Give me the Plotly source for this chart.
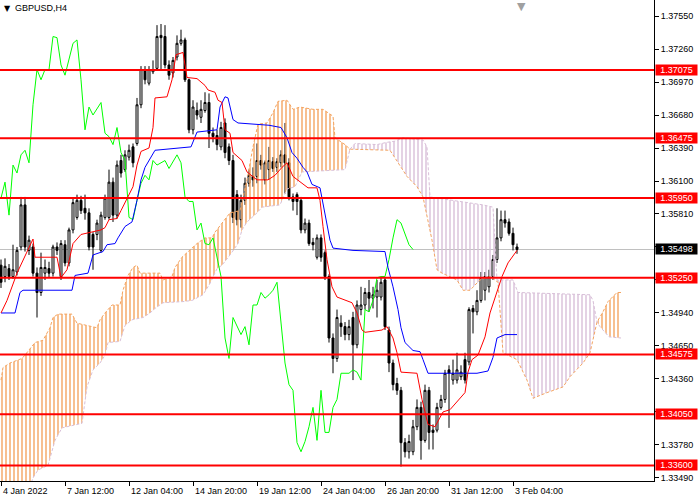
import plotly.graph_objects as go

# GBPUSD H4 candles, bar index 0..129
bars = list(range(130))
opens = [1.3536, 1.3526, 1.3533, 1.3526, 1.3530, 1.3552, 1.3589, 1.3549, 1.3552, 1.3529,
         1.3512, 1.3529, 1.3533, 1.3529, 1.3552, 1.3526, 1.3554, 1.3538, 1.3567, 1.3578,
         1.3593, 1.3586, 1.3582, 1.3563, 1.3563, 1.3549, 1.3578, 1.3578, 1.3609, 1.3580,
         1.3628, 1.3620, 1.3631, 1.3640, 1.3643, 1.3677, 1.3708, 1.3696, 1.3706, 1.3709,
         1.3738, 1.3737, 1.3712, 1.3705, 1.3719, 1.3731, 1.3734, 1.3699, 1.3655, 1.3672,
         1.3666, 1.3672, 1.3679, 1.3652, 1.3650, 1.3640, 1.3661, 1.3640, 1.3628, 1.3598,
         1.3576, 1.3593, 1.3608, 1.3614, 1.3614, 1.3628, 1.3611, 1.3620, 1.3627, 1.3622,
         1.3626, 1.3633, 1.3626, 1.3596, 1.3598, 1.3593, 1.3567, 1.3573, 1.3556, 1.3543,
         1.3560, 1.3547, 1.3526, 1.3472, 1.3454, 1.3485, 1.3482, 1.3475, 1.3490, 1.3466,
         1.3497, 1.3501, 1.3512, 1.3507, 1.3508, 1.3508, 1.3523, 1.3479, 1.3450, 1.3432,
         1.3426, 1.3380, 1.3372, 1.3372, 1.3394, 1.3411, 1.3382, 1.3426, 1.3391, 1.3391,
         1.3411, 1.3418, 1.3444, 1.3435, 1.3435, 1.3438, 1.3453, 1.3451, 1.3498, 1.3495,
         1.3505, 1.3514, 1.3517, 1.3526, 1.3541, 1.3560, 1.3576, 1.3574, 1.3564, 1.3552]
highs = [1.3541, 1.3542, 1.3537, 1.3554, 1.3552, 1.3596, 1.3596, 1.3562, 1.3555, 1.3534,
         1.3547, 1.3541, 1.3539, 1.3554, 1.3556, 1.3558, 1.3558, 1.3569, 1.3595, 1.3598,
         1.3597, 1.3598, 1.3586, 1.3565, 1.3576, 1.3583, 1.3598, 1.3620, 1.3613, 1.3628,
         1.3633, 1.3637, 1.3642, 1.3643, 1.3683, 1.3711, 1.3711, 1.3711, 1.3716, 1.3747,
         1.3748, 1.3747, 1.3716, 1.3719, 1.3738, 1.3743, 1.3736, 1.3700, 1.3681, 1.3679,
         1.3681, 1.3688, 1.3687, 1.3657, 1.3655, 1.3662, 1.3665, 1.3643, 1.3633, 1.3602,
         1.3598, 1.3613, 1.3620, 1.3622, 1.3643, 1.3633, 1.3628, 1.3640, 1.3631, 1.3630,
         1.3637, 1.3661, 1.3630, 1.3599, 1.3600, 1.3596, 1.3577, 1.3576, 1.3560, 1.3563,
         1.3563, 1.3549, 1.3528, 1.3476, 1.3497, 1.3492, 1.3486, 1.3488, 1.3495, 1.3505,
         1.3517, 1.3516, 1.3523, 1.3517, 1.3523, 1.3525, 1.3525, 1.3482, 1.3453, 1.3437,
         1.3429, 1.3384, 1.3387, 1.3400, 1.3418, 1.3416, 1.3431, 1.3429, 1.3396, 1.3415,
         1.3422, 1.3444, 1.3448, 1.3453, 1.3459, 1.3448, 1.3459, 1.3499, 1.3501, 1.3514,
         1.3530, 1.3530, 1.3532, 1.3545, 1.3586, 1.3584, 1.3584, 1.3577, 1.3569, 1.3555]
lows = [1.3516, 1.3521, 1.3523, 1.3524, 1.3527, 1.3549, 1.3548, 1.3545, 1.3526, 1.3490,
        1.3509, 1.3523, 1.3525, 1.3526, 1.3545, 1.3523, 1.3535, 1.3535, 1.3564, 1.3576,
        1.3581, 1.3576, 1.3549, 1.3532, 1.3558, 1.3547, 1.3576, 1.3576, 1.3574, 1.3577,
        1.3613, 1.3618, 1.3628, 1.3622, 1.3641, 1.3674, 1.3695, 1.3694, 1.3704, 1.3708,
        1.3708, 1.3709, 1.3699, 1.3701, 1.3716, 1.3729, 1.3697, 1.3652, 1.3651, 1.3664,
        1.3661, 1.3670, 1.3639, 1.3644, 1.3637, 1.3637, 1.3630, 1.3624, 1.3573, 1.3571,
        1.3569, 1.3589, 1.3605, 1.3605, 1.3608, 1.3620, 1.3607, 1.3611, 1.3618, 1.3618,
        1.3622, 1.3599, 1.3593, 1.3584, 1.3580, 1.3564, 1.3564, 1.3553, 1.3549, 1.3541,
        1.3539, 1.3523, 1.3468, 1.3441, 1.3451, 1.3473, 1.3470, 1.3470, 1.3435, 1.3463,
        1.3492, 1.3497, 1.3495, 1.3498, 1.3490, 1.3505, 1.3479, 1.3442, 1.3426, 1.3422,
        1.3359, 1.3367, 1.3366, 1.3369, 1.3391, 1.3365, 1.3380, 1.3374, 1.3374, 1.3389,
        1.3409, 1.3415, 1.3393, 1.3431, 1.3432, 1.3435, 1.3432, 1.3448, 1.3476, 1.3492,
        1.3503, 1.3505, 1.3512, 1.3523, 1.3538, 1.3557, 1.3569, 1.3562, 1.3549, 1.3546]
closes = [1.3521, 1.3535, 1.3526, 1.3532, 1.3549, 1.3589, 1.3552, 1.3558, 1.3529, 1.3512,
          1.3534, 1.3534, 1.3529, 1.3552, 1.3549, 1.3555, 1.3538, 1.3567, 1.3591, 1.3593,
          1.3584, 1.3582, 1.3552, 1.3552, 1.3573, 1.3580, 1.3595, 1.3609, 1.3580, 1.3624,
          1.3617, 1.3633, 1.3637, 1.3626, 1.3677, 1.3708, 1.3699, 1.3708, 1.3708, 1.3737,
          1.3736, 1.3712, 1.3703, 1.3716, 1.3731, 1.3734, 1.3699, 1.3655, 1.3675, 1.3668,
          1.3673, 1.3679, 1.3652, 1.3649, 1.3642, 1.3657, 1.3635, 1.3628, 1.3578, 1.3576,
          1.3593, 1.3608, 1.3615, 1.3611, 1.3628, 1.3624, 1.3626, 1.3628, 1.3621, 1.3627,
          1.3633, 1.3626, 1.3596, 1.3592, 1.3592, 1.3567, 1.3573, 1.3555, 1.3554, 1.3560,
          1.3543, 1.3526, 1.3472, 1.3454, 1.3490, 1.3482, 1.3475, 1.3482, 1.3466, 1.3501,
          1.3501, 1.3512, 1.3507, 1.3510, 1.3514, 1.3521, 1.3482, 1.3450, 1.3431, 1.3426,
          1.3380, 1.3372, 1.3381, 1.3394, 1.3411, 1.3382, 1.3426, 1.3389, 1.3389, 1.3411,
          1.3418, 1.3441, 1.3441, 1.3441, 1.3444, 1.3442, 1.3435, 1.3497, 1.3495, 1.3505,
          1.3525, 1.3526, 1.3526, 1.3541, 1.3560, 1.3576, 1.3573, 1.3564, 1.3554, 1.35498]

# Ichimoku lines, read at their turning points (bar index, price)
tenkan_x = [0, 1.5, 4, 7, 8, 8.5, 14, 15, 16.5, 18, 20, 25, 26, 27, 29, 30, 33, 34, 35, 37,
            38, 38.5, 41.5, 42.75, 43.75, 45.5, 46.5, 49, 51, 51.75, 53.5, 54.25, 55.25, 56, 57.25, 58,
            60.25, 61.5, 64, 66.75, 68.5, 70.25, 71.5, 73, 74.75, 76.75, 79, 79.75, 80.5, 81.5,
            82.75, 84, 87.75, 89, 90.25, 91, 95.25, 96.5, 98, 99, 100, 104, 105.25, 106.75, 108.5,
            110.5, 112.25, 114.75, 116, 116.75, 117.75, 119.25, 121, 122.25, 124, 125.25, 126.75, 129]
tenkan_y = [1.3494, 1.3505, 1.3529, 1.3552, 1.3559, 1.3543, 1.3543, 1.3525, 1.3532, 1.3555,
            1.3563, 1.3567, 1.3569, 1.3576, 1.3577, 1.3584, 1.3605, 1.3624, 1.3636, 1.3639,
            1.3657, 1.3683, 1.3684, 1.3699, 1.3721, 1.3723, 1.3701, 1.3700, 1.3694, 1.3690,
            1.3688, 1.3681, 1.3679, 1.3655, 1.3652, 1.3635, 1.3628, 1.3618, 1.3611, 1.3611,
            1.3615, 1.3622, 1.3626, 1.3614, 1.3609, 1.3604, 1.3604, 1.3593, 1.3570, 1.3541,
            1.3517, 1.3508, 1.3503, 1.3494, 1.3479, 1.3477, 1.3479, 1.3482, 1.3472, 1.3459,
            1.3442, 1.3441, 1.3418, 1.3396, 1.3394, 1.3407, 1.3409, 1.3419, 1.3424, 1.3442,
            1.3453, 1.3457, 1.3473, 1.3494, 1.3512, 1.3526, 1.3538, 1.3549]

kijun_x = [0, 3.5, 4.75, 5.5, 17.75, 18.5, 21.75, 23, 25.5, 26.5, 28.5, 29.25, 31, 32.75, 34,
           35, 36, 38, 38.5, 47.5, 49, 54, 54.75, 56, 56.75, 58, 59.25, 67, 70, 71.5, 72.75,
           74, 75.5, 76.5, 77.75, 79.75, 80.5, 81.25, 82.25, 83, 88, 96, 96.75, 98, 99.25,
           100, 101, 103, 104.75, 105.5, 106.75, 119, 121.75, 123, 124, 126, 129]
kijun_y = [1.3494, 1.3494, 1.3512, 1.3514, 1.3514, 1.3527, 1.3529, 1.3545, 1.3548, 1.3554,
           1.3555, 1.3560, 1.3570, 1.3574, 1.3593, 1.3611, 1.3622, 1.3635, 1.3637, 1.3640,
           1.3653, 1.3655, 1.3675, 1.3684, 1.3683, 1.3664, 1.3661, 1.3659, 1.3657, 1.3648,
           1.3635, 1.3630, 1.3622, 1.3618, 1.3607, 1.3604, 1.3591, 1.3578, 1.3558, 1.3551,
           1.3549, 1.3548, 1.3534, 1.3517, 1.3497, 1.3481, 1.3468, 1.3461, 1.3460, 1.3453,
           1.3441, 1.3441, 1.3443, 1.3455, 1.3472, 1.3475, 1.3475]

span_a_x = [0, 0.5, 2.25, 5.25, 6, 8.5, 10.5, 12.25, 13, 14.25, 17.75, 19, 24, 24.75, 26,
            27.75, 29.75, 30.5, 31.75, 33, 34, 34.75, 39.75, 40.5, 42.75, 43.5, 45.25, 46.75,
            49, 51, 52.75, 53.5, 55.5, 57.25, 59.75, 61.5, 63, 64.25, 66.5, 68, 69.25, 71.5,
            73, 74.75, 78, 80.5, 83, 83.5, 86, 87.25, 97.25, 99, 101.5, 104, 105.5, 107.75,
            109, 110.25, 114, 115.5, 117.25, 119.75, 122.25, 124.25, 125.5, 129, 131.5, 133,
            136.5, 140.5, 142.25, 145.5, 147.25, 149, 150.5, 151.75, 154, 155]
span_a_y = [1.3435, 1.3446, 1.3450, 1.3454, 1.3457, 1.3468, 1.3470, 1.3481, 1.3490, 1.3493,
            1.3493, 1.3485, 1.3481, 1.3488, 1.3494, 1.3501, 1.3501, 1.3514, 1.3527, 1.3534,
            1.3536, 1.3529, 1.3529, 1.3523, 1.3526, 1.3534, 1.3543, 1.3548, 1.3555, 1.3560,
            1.3560, 1.3565, 1.3574, 1.3582, 1.3584, 1.3611, 1.3640, 1.3660, 1.3661, 1.3670,
            1.3680, 1.3681, 1.3673, 1.3675, 1.3673, 1.3673, 1.3667, 1.3648, 1.3642, 1.3638,
            1.3637, 1.3628, 1.3614, 1.3605, 1.3596, 1.3558, 1.3532, 1.3529, 1.3523, 1.3514,
            1.3514, 1.3523, 1.3526, 1.3521, 1.3459, 1.3453, 1.3435, 1.3419, 1.3424, 1.3429,
            1.3438, 1.3450, 1.3459, 1.3486, 1.3495, 1.3504, 1.3512, 1.3512]

span_b_x = [0, 6, 8, 9.25, 11.75, 12.25, 13.5, 15.25, 20.25, 21.5, 23, 24.75, 26, 26.75,
            29.75, 31, 32.75, 35.5, 37.25, 38.5, 40.5, 45.5, 47.75, 50.5, 52.25, 54, 55.25,
            57.25, 59.25, 60.25, 61.5, 64, 65.25, 69.75, 71.5, 73.5, 75.25, 86, 87.25, 88.5,
            94, 96.5, 98.5, 100.5, 105.5, 106.5, 107.25, 109, 120.5, 123, 124, 128, 129.25,
            147.25, 148, 149, 149.75, 152, 155]
span_b_y = [1.3312, 1.3330, 1.3349, 1.3356, 1.3360, 1.3367, 1.3382, 1.3393, 1.3397, 1.3429,
            1.3444, 1.3450, 1.3457, 1.3468, 1.3469, 1.3483, 1.3488, 1.3490, 1.3494, 1.3498,
            1.3503, 1.3504, 1.3505, 1.3510, 1.3520, 1.3533, 1.3536, 1.3545, 1.3555, 1.3567,
            1.3574, 1.3582, 1.3587, 1.3589, 1.3603, 1.3605, 1.3618, 1.3620, 1.3638, 1.3643,
            1.3642, 1.3644, 1.3645, 1.3648, 1.3646, 1.3640, 1.3596, 1.3595, 1.3589, 1.3587,
            1.3523, 1.3523, 1.3512, 1.3510, 1.3505, 1.3486, 1.3482, 1.3473, 1.3472]

# where the cloud changes colour
cloud_parts = [(0, 87.25, "#F4A460"), (87.25, 149, "#D8BFD8"), (149, 155, "#F4A460")]

levels = [1.37075, 1.36475, 1.35950, 1.35250, 1.34575, 1.34050, 1.33600]
last_price = 1.35498
y_ticks = [1.37550, 1.37260, 1.36970, 1.36680, 1.36390, 1.36100, 1.35810, 1.35520,
           1.35230, 1.34940, 1.34650, 1.34360, 1.34070, 1.33780, 1.33490]
x_ticks = [0, 16, 32, 48, 64, 80, 96, 112, 128]
x_labels = ["4 Jan 2022", "7 Jan 12:00", "12 Jan 04:00", "14 Jan 20:00", "19 Jan 12:00",
            "24 Jan 04:00", "26 Jan 20:00", "31 Jan 12:00", "3 Feb 04:00"]

FONT = "Liberation Sans, Arial, sans-serif"

fig = go.Figure()

# kumo hatching
for lo, hi, col in cloud_parts:
    ax = [x for x in span_a_x if lo <= x <= hi]
    ay = [y for x, y in zip(span_a_x, span_a_y) if lo <= x <= hi]
    bx = [x for x in span_b_x if lo <= x <= hi]
    by = [y for x, y in zip(span_b_x, span_b_y) if lo <= x <= hi]
    fig.add_trace(go.Scatter(x=ax + bx[::-1], y=ay + by[::-1], mode="none", fill="toself",
                             fillcolor="rgba(0,0,0,0)",
                             fillpattern=dict(shape="|", fgcolor=col, bgcolor="rgba(0,0,0,0)",
                                              size=4, solidity=0.35, fgopacity=1),
                             hoverinfo="skip", showlegend=False))

fig.add_trace(go.Scatter(x=span_a_x, y=span_a_y, mode="lines",
                         line=dict(color="#F4A460", width=1, dash="3px,2px"), showlegend=False))
fig.add_trace(go.Scatter(x=span_b_x, y=span_b_y, mode="lines",
                         line=dict(color="#D8BFD8", width=1, dash="3px,2px"), showlegend=False))

fig.add_trace(go.Candlestick(x=bars, open=opens, high=highs, low=lows, close=closes,
                             increasing=dict(line=dict(color="black", width=1), fillcolor="white"),
                             decreasing=dict(line=dict(color="black", width=1), fillcolor="black"),
                             whiskerwidth=0, showlegend=False))

# chikou span = close drawn 26 bars back
fig.add_trace(go.Scatter(x=bars[:-26], y=closes[26:], mode="lines",
                         line=dict(color="#00FF00", width=1), showlegend=False))
fig.add_trace(go.Scatter(x=kijun_x, y=kijun_y, mode="lines",
                         line=dict(color="#0000FF", width=1), showlegend=False))
fig.add_trace(go.Scatter(x=tenkan_x, y=tenkan_y, mode="lines",
                         line=dict(color="#FF0000", width=1), showlegend=False))

fig.add_hline(y=last_price, line=dict(color="#C0C0C0", width=1), layer="below")
for lv in levels:
    fig.add_hline(y=lv, line=dict(color="#FF0000", width=2))
    fig.add_annotation(x=1, xref="paper", y=lv, yref="y", xanchor="left", yanchor="middle",
                       xshift=1, text=f"{lv:.5f}", showarrow=False, bgcolor="#FF0000",
                       width=39, height=8, borderpad=1,
                       font=dict(color="white", size=9, family=FONT))
fig.add_annotation(x=1, xref="paper", y=last_price, yref="y", xanchor="left", yanchor="middle",
                   xshift=1, text=f"{last_price:.5f}", showarrow=False, bgcolor="black",
                   width=39, height=8, borderpad=1, font=dict(color="white", size=9, family=FONT))

for xv, lab in zip(x_ticks, x_labels):
    fig.add_annotation(x=xv, xref="x", y=0, yref="paper", xanchor="left", yanchor="top",
                       yshift=-3, text=lab, showarrow=False,
                       font=dict(color="black", size=9, family=FONT))

fig.add_annotation(x=0, xref="paper", y=1, yref="paper", xanchor="left", yanchor="top",
                   xshift=2, yshift=-2, text="▼", showarrow=False,
                   font=dict(color="black", size=8, family="DejaVu Sans"))
fig.add_annotation(x=0, xref="paper", y=1, yref="paper", xanchor="left", yanchor="top",
                   xshift=13, yshift=-1, text="GBPUSD,H4", showarrow=False,
                   font=dict(color="black", size=9, family=FONT))
fig.add_annotation(x=130, xref="x", y=1, yref="paper", xanchor="center", yanchor="top",
                   yshift=2, text="▼", showarrow=False,
                   font=dict(color="#A0A0A0", size=11, family="DejaVu Sans"))

fig.update_layout(
    width=700, height=500,
    margin=dict(l=0, r=46, t=0, b=19),
    paper_bgcolor="white", plot_bgcolor="white",
    showlegend=False,
    font=dict(family=FONT, size=9, color="black"),
    xaxis=dict(range=[-0.25, 163.25], showgrid=False, zeroline=False, showline=True,
               linecolor="black", linewidth=1, ticks="outside", ticklen=4, tickcolor="black",
               tickvals=x_ticks, showticklabels=False, rangeslider=dict(visible=False)),
    yaxis=dict(range=[1.33463, 1.37691], side="right", showgrid=False, zeroline=False,
               showline=True, linecolor="black", linewidth=1, ticks="outside", ticklen=4,
               tickcolor="black", tickvals=y_ticks, tickformat=".5f",
               tickfont=dict(size=9, family=FONT, color="black")),
)

# page margin off so the 700x500 figure fills the window; no toolbar
fig.write_html("out.html", config={"displayModeBar": False},
               post_script="document.body.style.margin='0';")
